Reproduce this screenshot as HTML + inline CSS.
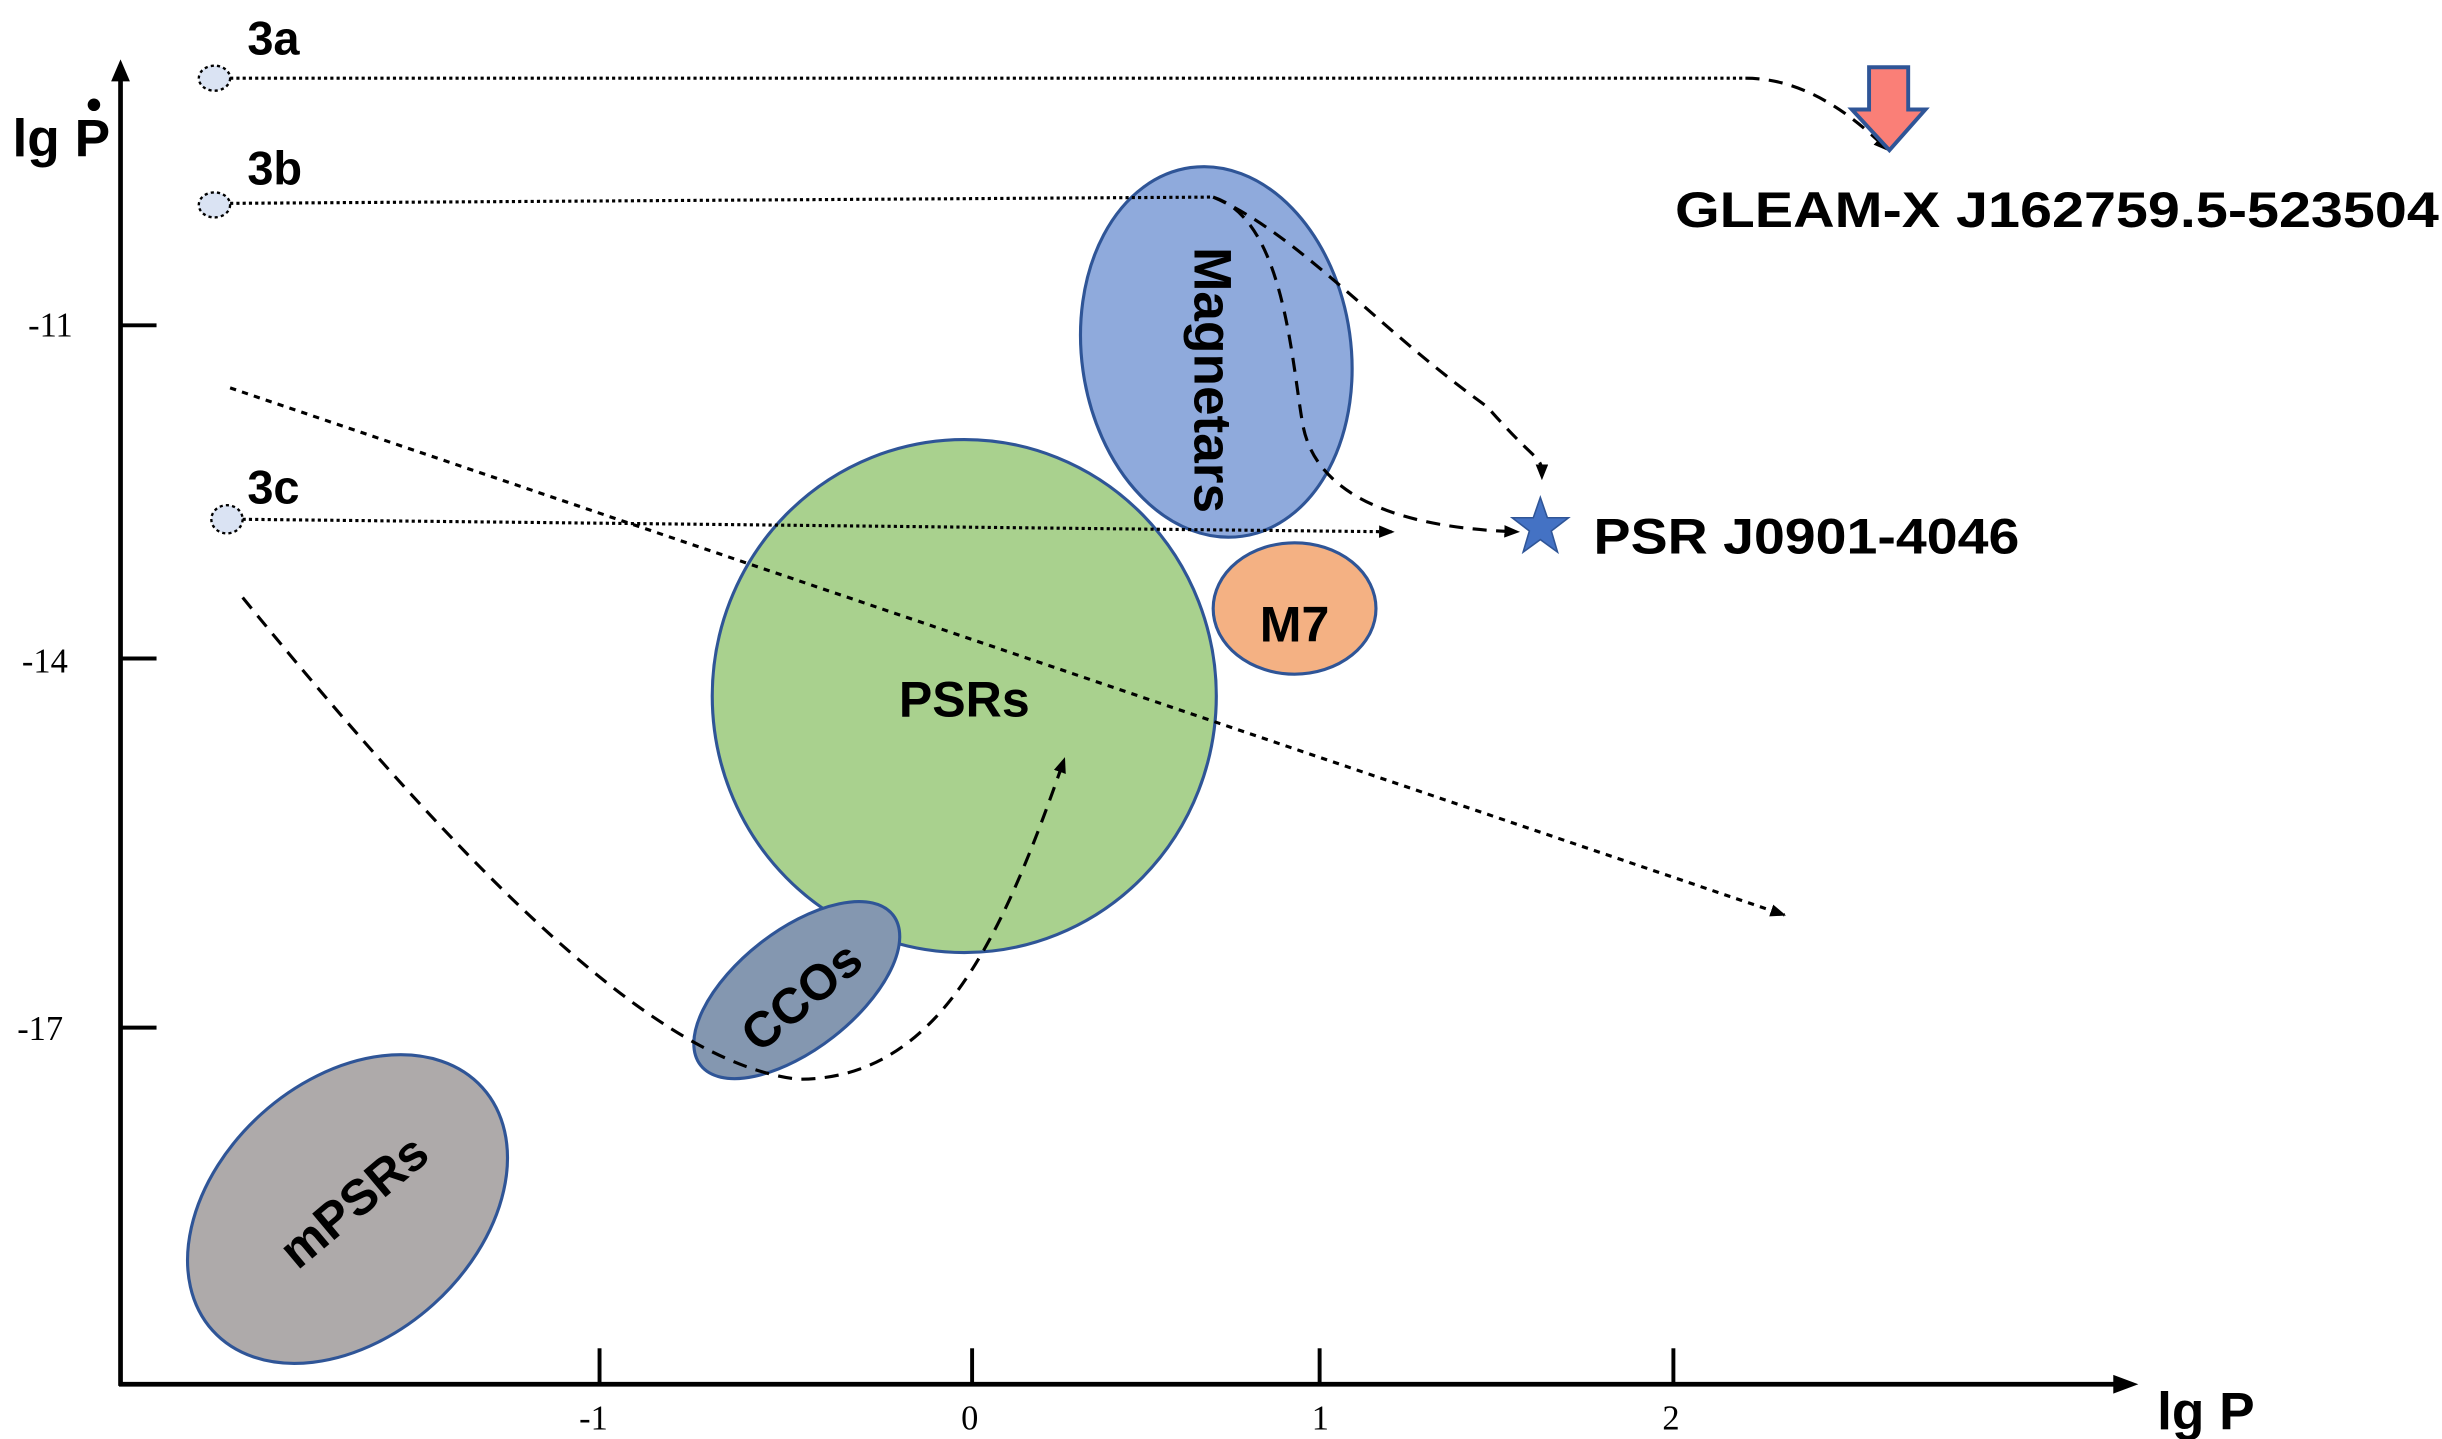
<!DOCTYPE html>
<html><head><meta charset="utf-8"><style>html,body{margin:0;padding:0;background:#fff}svg{display:block}</style></head><body>
<svg width="2442" height="1439" viewBox="0 0 1560 920" preserveAspectRatio="none" xmlns="http://www.w3.org/2000/svg" font-family="Liberation Sans, sans-serif">
<defs>
<marker id="ah" markerWidth="10" markerHeight="8" refX="9" refY="4" orient="auto" markerUnits="userSpaceOnUse"><path d="M0,0 L10,4 L0,8 z" fill="#000"/></marker>
</defs>
<line x1="77" y1="886" x2="77" y2="50" stroke="#000" stroke-width="3"/>
<path d="M71,52 L77,38 L83,52 z" fill="#000"/>
<line x1="76" y1="885" x2="1352" y2="885" stroke="#000" stroke-width="3"/>
<path d="M1350,879 L1366,885 L1350,891 z" fill="#000"/>
<g stroke="#000" stroke-width="2.5">
<line x1="77" y1="208" x2="100" y2="208"/><line x1="77" y1="421" x2="100" y2="421"/><line x1="77" y1="657" x2="100" y2="657"/>
<line x1="383" y1="862" x2="383" y2="885"/><line x1="621" y1="862" x2="621" y2="885"/><line x1="843" y1="862" x2="843" y2="885"/><line x1="1069" y1="862" x2="1069" y2="885"/>
</g>
<g font-family="Liberation Serif, serif" font-size="22" fill="#000">
<text x="18" y="215">-11</text><text x="14" y="430">-14</text><text x="11" y="665">-17</text>
<text x="370" y="914">-1</text><text x="614" y="914">0</text><text x="838" y="914">1</text><text x="1062" y="914">2</text>
</g>
<text x="1378" y="914" font-size="34" font-weight="bold">lg P</text>
<text x="8" y="100" font-size="34" font-weight="bold">lg P</text>
<circle cx="60" cy="67" r="4" fill="#000"/>
<ellipse cx="222" cy="773" rx="116" ry="82" transform="rotate(-42 222 773)" fill="#aeaaaa" stroke="#2f5597" stroke-width="2"/>
<ellipse cx="777" cy="225" rx="86" ry="119" transform="rotate(-8 777 225)" fill="#8faadc" stroke="#2f5597" stroke-width="2"/>
<ellipse cx="616" cy="445" rx="161" ry="164" fill="#a9d18e" stroke="#2f5597" stroke-width="2"/>
<ellipse cx="827" cy="389" rx="52" ry="42" fill="#f4b183" stroke="#2f5597" stroke-width="2"/>
<ellipse cx="509" cy="633" rx="78" ry="38" transform="rotate(-38 509 633)" fill="#8497b0" stroke="#2f5597" stroke-width="2"/>
<g font-size="32" font-weight="bold" fill="#000" text-anchor="middle">
<text x="616" y="458">PSRs</text>
<text x="827" y="410">M7</text>
<text transform="translate(775,243) rotate(90)" y="12" font-size="34">Magnetars</text>
<text transform="translate(512,637) rotate(-40)" y="11">CCOs</text>
<text transform="translate(226,768) rotate(-40)" y="11">mPSRs</text>
</g>
<g fill="#dae3f3" stroke="#000" stroke-width="1.5" stroke-dasharray="2 2">
<ellipse cx="137" cy="50" rx="10" ry="8"/><ellipse cx="137" cy="131" rx="10" ry="8"/><ellipse cx="145" cy="332" rx="10" ry="9"/>
</g>
<g font-size="30" font-weight="bold"><text x="158" y="35">3a</text><text x="158" y="118">3b</text><text x="158" y="322">3c</text></g>
<g fill="none" stroke="#000" stroke-width="2">
<path d="M147,50 L1115,50" stroke-dasharray="2 2"/>
<path d="M1115,50 C1150,50 1180,70 1206,96" stroke-dasharray="9 6" marker-end="url(#ah)"/>
<path d="M147,130 L775,126" stroke-dasharray="2 2"/>
<path d="M775,126 C830,150 880,210 950,260 C985,300 985,290 985,306" stroke-dasharray="9 6" marker-end="url(#ah)"/>
<path d="M775,126 C820,140 825,230 832,270 C840,320 900,338 970,340" stroke-dasharray="9 6" marker-end="url(#ah)"/>
<path d="M155,332 L890,340" stroke-dasharray="2 2" marker-end="url(#ah)"/>
<path d="M147,248 L1140,585" stroke-dasharray="4 4" marker-end="url(#ah)"/>
<path d="M155,382 C300,560 420,680 510,690 C600,690 640,600 680,485" stroke-dasharray="9 6" marker-end="url(#ah)"/>
</g>
<path d="M1194,43 L1219,43 L1219,70 L1230,70 L1207,96 L1183,70 L1194,70 z" fill="#fa7f77" stroke="#2f5597" stroke-width="2.5"/>
<path transform="translate(984,337)" d="M0,-19 L4.5,-6 L18,-6 L7,2.5 L11,16 L0,8 L-11,16 L-7,2.5 L-18,-6 L-4.5,-6 z" fill="#4472c4" stroke="#2f5597" stroke-width="1"/>
<g font-size="32" font-weight="bold">
<text x="1070" y="145" textLength="488" lengthAdjust="spacingAndGlyphs">GLEAM-X J162759.5-523504</text>
<text x="1018" y="354" textLength="272" lengthAdjust="spacingAndGlyphs">PSR J0901-4046</text>
</g>
</svg>
</body></html>
